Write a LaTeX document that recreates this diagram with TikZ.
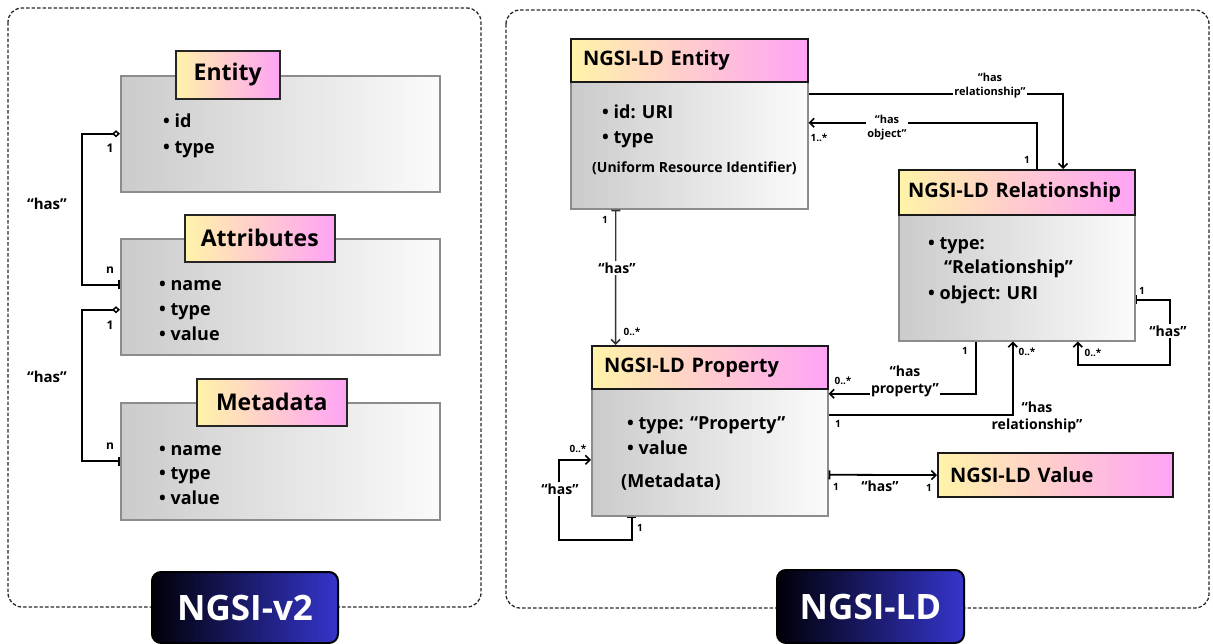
\documentclass[tikz,border=0pt]{standalone}
\usepackage{fontspec}
\setmainfont{Open Sans}
\usetikzlibrary{arrows.meta}

\definecolor{bodyL}{HTML}{CBCBCB}
\definecolor{bodyR}{HTML}{FBFBFB}
\definecolor{bodyEdge}{HTML}{8C8C8C}
\definecolor{tY}{HTML}{FFF3A8}
\definecolor{tM}{HTML}{FFCEC8}
\definecolor{tP}{HTML}{FFA3F6}
\definecolor{badgeL}{HTML}{000008}
\definecolor{badgeR}{HTML}{3535CC}
\definecolor{panelEdge}{HTML}{2A2A2A}

\tikzset{
  panel/.style={draw=panelEdge, line width=1.3pt, dash pattern=on 3.5pt off 2pt, rounded corners=14pt},
  bodybox/.style={draw=bodyEdge, line width=1.5pt, left color=bodyL, right color=bodyR,
    anchor=north west, inner sep=0pt},
  titlebase/.style={left color=tY, middle color=tM, right color=tP, text=black,
    anchor=north west, inner sep=0pt},
  titleL/.style={titlebase, draw=black!85, line width=1.5pt,
    font=\bfseries\fontsize{23}{26}\selectfont},
  titleR/.style={titlebase, draw=black!90, line width=2.2pt,
    font=\bfseries\fontsize{20}{24}\selectfont, align=left, inner xsep=12pt},
  badge/.style={draw=black, line width=2pt, rounded corners=9pt, left color=badgeL,
    right color=badgeR, text=white, font=\bfseries\fontsize{35}{40}\selectfont,
    anchor=north west, inner sep=0pt},
  itemL/.style={anchor=base west, inner sep=0pt, font=\bfseries\fontsize{18}{22}\selectfont},
  itemR/.style={anchor=base west, inner sep=0pt, font=\bfseries\fontsize{18}{22}\selectfont},
  noteR/.style={anchor=base west, inner sep=0pt, font=\bfseries\fontsize{14}{17}\selectfont},
  mult/.style={inner sep=0.5pt, font=\bfseries\fontsize{10}{12}\selectfont},
  multL/.style={inner sep=0.5pt, font=\bfseries\fontsize{12}{14}\selectfont},
  rel/.style={inner sep=1.5pt, align=center, font=\bfseries\fontsize{14}{17}\selectfont},
  relS/.style={inner sep=1.5pt, align=center, font=\bfseries\fontsize{11}{14}\selectfont},
  relL/.style={inner sep=1.5pt, font=\bfseries\fontsize{15}{18}\selectfont},
  conn/.style={line width=1.8pt, black},
  thinconn/.style={line width=1.4pt, black!80},
  barb/.tip={Straight Barb[length=4.5pt, width=9pt, line width=1.6pt]},
  tee/.tip={Bar[width=9pt, line width=1.8pt]},
  odia/.tip={Diamond[open, length=8pt, width=7pt, line width=1.5pt]},
}

\begin{document}
\begin{tikzpicture}[x=1pt, y=-1pt]
\useasboundingbox (0,0) rectangle (1213,643);

% ---------- dashed frames ----------
\draw[panel] (8,8) rectangle (481,607);
\draw[panel] (506,10) rectangle (1209,608);

% ---------- NGSI-v2 model ----------
\node[bodybox, minimum width=319pt, minimum height=116pt] (v2ent) at (120,75) {};
\node[titleL, minimum width=104pt, minimum height=48pt] (v2entT) at (175,50) {Entity};
\node[itemL] (v2e1) at (163,127) {• id};
\node[itemL] (v2e2) at (163,153) {• type};

\node[bodybox, minimum width=319pt, minimum height=116pt] (v2att) at (120,238) {};
\node[titleL, minimum width=150pt, minimum height=47pt] (v2attT) at (184,214) {Attributes};
\node[itemL] (v2a1) at (159,290) {• name};
\node[itemL] (v2a2) at (159,315) {• type};
\node[itemL] (v2a3) at (159,340) {• value};

\node[bodybox, minimum width=319pt, minimum height=117pt] (v2met) at (120,402) {};
\node[titleL, minimum width=150pt, minimum height=47pt] (v2metT) at (196,378) {Metadata};
\node[itemL] (v2m1) at (159,455) {• name};
\node[itemL] (v2m2) at (159,479) {• type};
\node[itemL] (v2m3) at (159,504) {• value};

% entity -> attributes, attributes -> metadata
\draw[conn, {odia}-{tee}] (v2ent.west) -- ++(-38,0) |- ([yshift=12pt]v2att.west);
\draw[conn, {odia}-{tee}] ([yshift=-13pt]v2att.west) -- ++(-38,0) |- (v2met.west);

\node[multL] (v2c1) at (110,148) {1};
\node[multL] (v2c2) at (110,270) {n};
\node[multL] (v2c3) at (110,325) {1};
\node[multL] (v2c4) at (110,446) {n};
\node[relL] (v2h1) at (47,204) {“has”};
\node[relL] (v2h2) at (47,377) {“has”};

% ---------- NGSI-LD model ----------
% entity
\node[bodybox, minimum width=237pt, minimum height=127pt] (ldent) at (570,81) {};
\node[titleR, minimum height=43pt, text width=213pt] (ldentT) at (570,38) {NGSI-LD Entity};
\node[itemR] (lde1) at (602,118) {• id: URI};
\node[itemR] (lde2) at (602,143) {• type};
\node[noteR] (lde3) at (592,172) {(Uniform Resource Identifier)};

% relationship
\node[bodybox, minimum width=236pt, minimum height=126pt] (ldrel) at (898,214) {};
\node[titleR, minimum height=45pt, text width=218pt, inner xsep=9pt] (ldrelT) at (898,169) {NGSI-LD Relationship};
\node[itemR] (ldr1) at (928,249) {• type:};
\node[itemR] (ldr2) at (944,273) {“Relationship”};
\node[itemR] (ldr3) at (928,299) {• object: URI};

% property
\node[bodybox, minimum width=236pt, minimum height=127pt] (ldprop) at (591,388) {};
\node[titleR, minimum height=43pt, text width=212pt] (ldpropT) at (591,345) {NGSI-LD Property};
\node[itemR] (ldp1) at (627,429) {• type: “Property”};
\node[itemR] (ldp2) at (627,454) {• value};
\node[itemR] (ldp3) at (621,487) {(Metadata)};

% value
\node[titleR, minimum height=44pt, text width=211pt] (ldval) at (937,452) {NGSI-LD Value};

% loop corners
\coordinate (relloop) at (1170,365);
\coordinate (proploop) at (559,540);

% connectors
\draw[conn, -{barb}] ([yshift=51.5pt]ldent.east) -| ([xshift=46pt]ldrelT.north);
\draw[conn, -{barb}] ([xshift=20pt]ldrelT.north) |- ([yshift=22.5pt]ldent.east);
\draw[thinconn, {tee}-{barb}] ([xshift=-73.5pt]ldent.south) -- ([xshift=-94.5pt]ldpropT.north);
\draw[conn, -{barb}] ([xshift=-41pt]ldrel.south) |- ([yshift=58.5pt]ldprop.east);
\draw[conn, -{barb}] ([yshift=37.5pt]ldprop.east) -| ([xshift=-4pt]ldrel.south);
\draw[conn, {tee}-{barb}] ([yshift=-22pt]ldrel.east) -| (relloop) -| ([xshift=61pt]ldrel.south);
\draw[conn, {tee}-{barb}] ([yshift=-22.5pt]ldprop.east) -- (ldval.west);
\draw[conn, {tee}-{barb}] ([xshift=-78pt]ldprop.south) |- (proploop) |- ([yshift=-7.5pt]ldprop.west);

% relation names
\node[relS, fill=white] (lr1) at (990,86) {“has\\relationship”};
\node[relS, fill=white] (lr2) at (887,128) {“has\\object”};
\node[rel, fill=white] (lr3) at (617,268) {“has”};
\node[rel, fill=white] (lr4) at (905,381) {“has\\property”};
\node[rel] (lr5) at (1037,417) {“has\\relationship”};
\node[rel, fill=white] (lr6) at (1168,331) {“has”};
\node[rel] (lr7) at (880,486) {“has”};
\node[rel, fill=white] (lr8) at (560,489) {“has”};

% multiplicities
\node[mult] (m1) at (819,138) {1..*};
\node[mult] (m2) at (1027,160) {1};
\node[mult] (m3) at (605,220) {1};
\node[mult] (m4) at (632,332) {0..*};
\node[mult] (m5) at (965,351) {1};
\node[mult] (m6) at (843,381) {0..*};
\node[mult] (m7) at (838,424) {1};
\node[mult] (m8) at (1027,352) {0..*};
\node[mult] (m9) at (1142,291) {1};
\node[mult] (m10) at (1093,353) {0..*};
\node[mult] (m11) at (836,487) {1};
\node[mult] (m12) at (929,488) {1};
\node[mult] (m13) at (578,449) {0..*};
\node[mult] (m14) at (640,528) {1};

% ---------- badges ----------
\node[badge, minimum width=186pt, minimum height=71pt] (v2badge) at (151,571) {NGSI-v2};
\node[badge, minimum width=187pt, minimum height=73pt] (ldbadge) at (776,569) {NGSI-LD};

\end{tikzpicture}
\end{document}
